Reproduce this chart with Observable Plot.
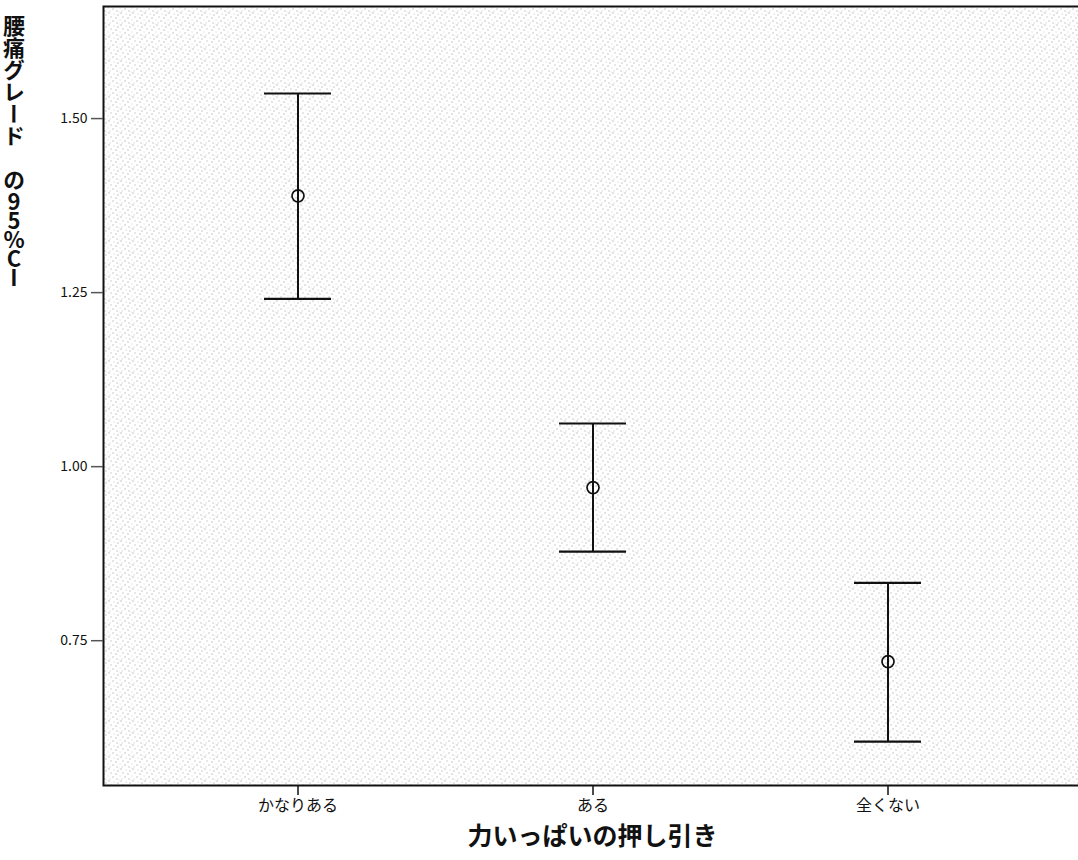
<!DOCTYPE html>
<html>
<head>
<meta charset="utf-8">
<script src="https://cdn.jsdelivr.net/npm/d3@7"></script>
<script src="https://cdn.jsdelivr.net/npm/@observablehq/plot@0.6"></script>
<style>
  body { margin: 0; background: #fff; }
  #wrap { position: relative; width: 1078px; height: 860px; font-family: "Noto Sans CJK JP", sans-serif; }
  #ylab { position: absolute; left: 3px; top: 15px; writing-mode: vertical-rl; text-orientation: upright;
          font-size: 22px; font-weight: bold; color: #111; line-height: 1; }
  #ylab .lat { letter-spacing: -3px; }
</style>
</head>
<body>
<div id="wrap"><div id="ylab">腰痛グレード の<span class="lat">95%CI</span></div></div>
<script>
const categories = ["かなりある", "ある", "全くない"];
const means = [1.389, 0.970, 0.720];
const lower = [1.241, 0.878, 0.605];
const upper = [1.536, 1.062, 0.833];
const yTicks = [0.75, 1.00, 1.25, 1.50];
const xLabel = "力いっぱいの押し引き";

const data = categories.map((c, i) => ({cat: c, mean: means[i], lo: lower[i], hi: upper[i]}));

const chart = Plot.plot({
  width: 1078,
  height: 860,
  marginLeft: 103,
  marginRight: -3,
  marginTop: 6,
  marginBottom: 75,
  style: {fontFamily: "'Noto Sans CJK JP', sans-serif", background: "transparent", color: "#111"},
  x: {type: "band", domain: categories, paddingInner: 0, paddingOuter: 0.156, label: null},
  y: {domain: [0.542, 1.661], ticks: yTicks, tickFormat: d3.format(".2f"), label: null},
  marks: [
    Plot.frame({fill: "url(#stipple)", stroke: "#111", strokeWidth: 2}),
    Plot.axisY({ticks: yTicks, tickFormat: d3.format(".2f"), fontSize: 14, tickSize: 12, tickPadding: 4, label: null, stroke: "#555", strokeWidth: 1.5}),
    Plot.axisX({fontSize: 16, tickSize: 10, tickPadding: 4, label: null, strokeWidth: 1.5}),
    Plot.ruleX(data, {x: "cat", y1: "lo", y2: "hi", stroke: "#111", strokeWidth: 2}),
    Plot.tickY(data, {x: "cat", y: "lo", stroke: "#111", strokeWidth: 2.2, insetLeft: 114, insetRight: 114}),
    Plot.tickY(data, {x: "cat", y: "hi", stroke: "#111", strokeWidth: 2.2, insetLeft: 114, insetRight: 114}),
    Plot.dot(data, {x: "cat", y: "mean", r: 6, stroke: "#111", strokeWidth: 1.7, fill: "none"}),
    Plot.text([xLabel], {frameAnchor: "bottom", lineAnchor: "middle", dy: 51, fontSize: 25, fontWeight: "bold", fill: "#111"})
  ]
});

// stipple pattern defs
const ns = "http://www.w3.org/2000/svg";
const defs = document.createElementNS(ns, "defs");
const pat = document.createElementNS(ns, "pattern");
pat.setAttribute("id", "stipple");
pat.setAttribute("patternUnits", "userSpaceOnUse");
pat.setAttribute("width", 12);
pat.setAttribute("height", 12);
const bg = document.createElementNS(ns, "rect");
bg.setAttribute("width", 12); bg.setAttribute("height", 12); bg.setAttribute("fill", "#ffffff");
pat.appendChild(bg);
const dots = [[0,0,"#8a8a8a"],[5,1,"#c8c8c8"],[9,2,"#8f8f8f"],[2,4,"#a0a0a0"],[7,5,"#8a8a8a"],[11,7,"#d0d0d0"],[4,8,"#909090"],[1,10,"#bdbdbd"],[8,10,"#999999"],[10,11,"#dddddd"]];
for (const [dx, dy, col] of dots) {
  const r = document.createElementNS(ns, "rect");
  r.setAttribute("x", dx); r.setAttribute("y", dy); r.setAttribute("width", 1); r.setAttribute("height", 1);
  r.setAttribute("fill", col);
  pat.appendChild(r);
}
defs.appendChild(pat);
chart.insertBefore(defs, chart.firstChild);
chart.style.position = "absolute";
chart.style.left = "0";
chart.style.top = "0";
document.getElementById("wrap").prepend(chart);
</script>
</body>
</html>
